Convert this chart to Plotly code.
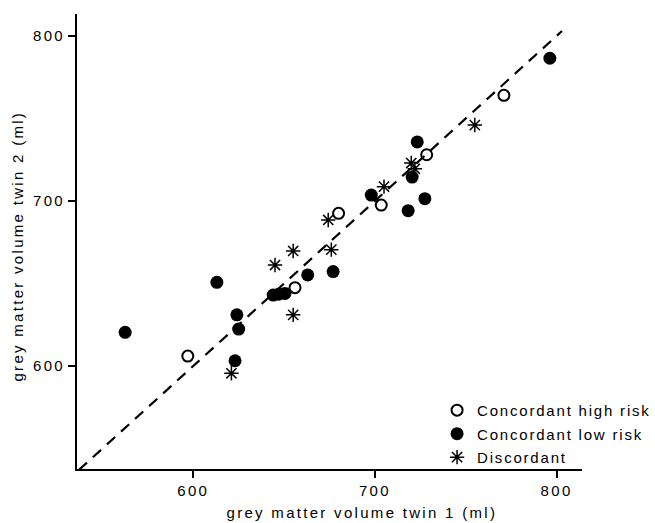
import plotly.graph_objects as go

# ---- data (ml) ----
high_risk_x = [597, 656, 680, 703.5, 728.5, 771]
high_risk_y = [606, 647.5, 692.5, 697.5, 728, 764]

low_risk_x = [562.5, 613, 624, 625, 623, 644, 647, 650.5, 663, 677, 698, 718.3, 727.5, 720.5, 723.3, 796.3]
low_risk_y = [620.4, 650.7, 631, 622.4, 603.2, 643, 643.5, 644, 655.2, 657.2, 703.6, 694.1, 701.4, 714.5, 735.8, 786.5]

discordant_x = [621, 645, 655, 655, 676, 674.3, 705, 720, 722, 755]
discordant_y = [595.6, 661.2, 669.7, 631, 670.5, 688.5, 708.7, 723, 719.5, 746]

identity_line = [537, 803]
tick_values = [600, 700, 800]

x_title = "grey matter volume twin 1 (ml)"
y_title = "grey matter volume twin 2 (ml)"

FONT = "Arial, 'Liberation Sans', sans-serif"

fig = go.Figure()

fig.add_trace(go.Scatter(
    x=identity_line, y=identity_line, mode="lines",
    line=dict(color="black", width=2.2, dash="11px,8px"),
    showlegend=False, hoverinfo="skip"))

fig.add_trace(go.Scatter(
    x=high_risk_x, y=high_risk_y, mode="markers", name="Concordant high risk",
    legendgroup="a",
    marker=dict(symbol="circle-open", size=11, color="black", line=dict(width=2))))

fig.add_trace(go.Scatter(
    x=low_risk_x, y=low_risk_y, mode="markers", name="Concordant low risk",
    legendgroup="b",
    marker=dict(symbol="circle", size=13, color="black")))

fig.add_trace(go.Scatter(
    x=discordant_x, y=discordant_y, mode="markers", name="Discordant",
    legendgroup="c",
    marker=dict(symbol="asterisk-open", size=12, color="black", line=dict(width=1.5, color="black"))))

axis_common = dict(
    showline=True, linewidth=2, linecolor="black",
    ticks="outside", ticklen=7, tickwidth=2, tickcolor="black",
    showgrid=False, zeroline=False, tickvals=tick_values,
    tickfont=dict(family=FONT, size=15, color="black"),
    mirror=False,
)

fig.update_layout(
    width=655, height=523,
    margin=dict(l=77, r=73, t=14, b=54),
    paper_bgcolor="white", plot_bgcolor="white",
    font=dict(family=FONT, size=15, color="black"),
    xaxis=dict(range=[536, 814], **axis_common),
    yaxis=dict(range=[537.6, 813.3], **axis_common),
    legend=dict(
        x=0.713, y=0.165, xanchor="left", yanchor="top",
        bgcolor="rgba(0,0,0,0)", borderwidth=0,
        font=dict(family=FONT, size=15, color="black"),
        traceorder="grouped", tracegroupgap=1,
    ),
    annotations=[
        dict(text=x_title, xref="paper", yref="paper", x=0.5638, y=-0.096,
             xanchor="center", yanchor="middle", showarrow=False,
             font=dict(family=FONT, size=15, color="black")),
        dict(text=y_title, xref="paper", yref="paper", x=-0.1188, y=0.49,
             xanchor="center", yanchor="middle", showarrow=False, textangle=-90,
             font=dict(family=FONT, size=15, color="black")),
    ],
)

post_script = (
    "document.body.style.margin='0';"
    "document.querySelectorAll('.xtick text, .ytick text, .annotation-text')"
    ".forEach(function(e){e.style.letterSpacing='2.3px';});"
    "document.querySelectorAll('.legendtext')"
    ".forEach(function(e){e.style.letterSpacing='1.8px';});"
    "document.querySelectorAll('.legend .scrollbox, .legend [clip-path]')"
    ".forEach(function(e){e.removeAttribute('clip-path');});"
)

fig.write_html("out.html", post_script=post_script, config={"displayModeBar": False})
